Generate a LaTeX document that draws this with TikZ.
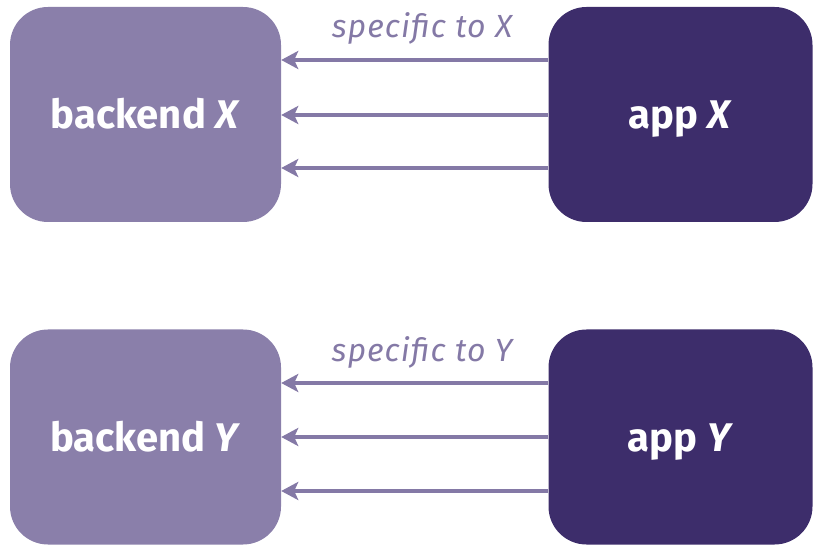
\documentclass[tikz,border=0pt]{standalone}
\usepackage{fontspec}
\setmainfont{Fira Sans}
\newfontfamily\lblfont[LetterSpace=3.5]{Fira Sans}
\usetikzlibrary{arrows.meta}
\definecolor{backc}{HTML}{8A7FAA}
\definecolor{appc}{HTML}{3D2D6B}
\definecolor{arrc}{HTML}{8479A6}
\begin{document}
\begin{tikzpicture}[x=1pt,y=-1pt,
  boxtext/.style={inner sep=0pt, text=white, text height=29pt, text depth=0pt, font=\fontsize{40}{44}\selectfont\bfseries},
  backbox/.style={boxtext, fill=backc, rounded corners=38pt, minimum width=271pt, minimum height=215pt},
  appbox/.style={boxtext, fill=appc, rounded corners=38pt, minimum width=264pt, minimum height=215pt},
  flow/.style={draw=arrc, line width=3.4pt, -{Stealth[length=17pt,width=18pt,inset=4pt]}},
  lbl/.style={text=arrc, font=\lblfont\fontsize{32}{35}\selectfont\itshape, anchor=base}]
\useasboundingbox (0,0) rectangle (815,548);
\node[backbox] (bx) at (145.5,114.5) {backend \textit{X}};
\node[appbox] (ax) at (680.5,114.5) {app \textit{X}};
\node[backbox] (by) at (145.5,437) {backend \textit{Y}};
\node[appbox] (ay) at (680.5,437) {app \textit{Y}};
\foreach \n/\yy in {1/60,2/115,3/168}{
  \draw[flow] (ax.west |- 0,\yy) -- (bx.east |- 0,\yy);
}
\foreach \n/\yy in {1/383,2/437,3/491}{
  \draw[flow] (ay.west |- 0,\yy) -- (by.east |- 0,\yy);
}
\node[lbl] (lx) at (422,38) {speci^^^^fb01c to X};
\node[lbl] (ly) at (422,362) {speci^^^^fb01c to Y};
\end{tikzpicture}
\end{document}
